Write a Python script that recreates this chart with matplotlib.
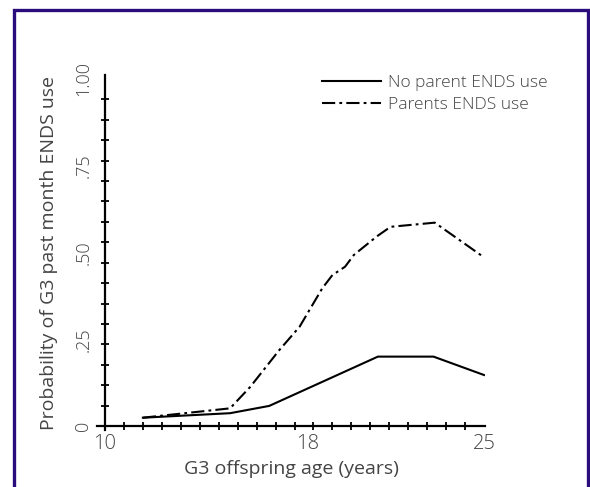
import numpy as np
import matplotlib.pyplot as plt
from matplotlib.patches import Rectangle
from matplotlib.ticker import FixedLocator

plt.rcParams['font.family'] = ['Open Sans', 'DejaVu Sans']
plt.rcParams['font.weight'] = 300
plt.rcParams['lines.scale_dashes'] = False

# data
age_none = [11.5, 14.95, 16.5, 20.8, 23.0, 25.0]
prob_none = [0.024, 0.037, 0.058, 0.200, 0.200, 0.147]

age_par = [11.5, 14.95, 15.75, 16.9, 17.7, 18.6, 19.0, 19.5, 19.85, 20.75, 21.3, 23.05, 25.0]
prob_par = [0.024, 0.051, 0.113, 0.219, 0.286, 0.397, 0.435, 0.459, 0.493, 0.546, 0.574, 0.586, 0.486]

ytick_vals = [0, 0.25, 0.5, 0.75, 1.0]
ytick_labels = ['0', '.25', '.50', '.75', '1.00']
xtick_vals = [10, 18, 25]

grey = '#444444'

fig = plt.figure(figsize=(5.9, 4.87), dpi=100)
# axes placed so that x=10 -> 105px, x=25 -> 484px, y=0 -> 426px, y=1 -> 79px
ax = fig.add_axes([97.4 / 590, 1 - 430.2 / 487, 387.9 / 590, 355.4 / 487])

ax.plot(age_none, prob_none, color='black', lw=1.5, label='No parent ENDS use')
ax.plot(age_par, prob_par, color='black', lw=1.5, dashes=(9.5, 3, 2, 3),
        label='Parents ENDS use')

ax.set_xlim(9.7, 25.05)
ax.set_ylim(-0.012, 1.012)
ax.spines['left'].set_position(('data', 10))
ax.spines['bottom'].set_position(('data', 0))
ax.spines['right'].set_visible(False)
ax.spines['top'].set_visible(False)
for s in ('left', 'bottom'):
    ax.spines[s].set_linewidth(1.6)

ax.set_yticks(ytick_vals)
ax.set_yticklabels(ytick_labels, rotation=90, va='center')
ax.set_xticks(xtick_vals)
ax.yaxis.set_minor_locator(FixedLocator([k / 17 for k in range(1, 18)]))
ax.xaxis.set_minor_locator(FixedLocator([10 + 0.75 * k for k in range(1, 21)]))
ax.tick_params(which='major', length=0, labelcolor=grey)
ax.tick_params(axis='x', which='major', labelsize=14.5, pad=6)
ax.tick_params(axis='y', which='major', labelsize=13, pad=9)
ax.tick_params(which='minor', direction='inout', length=6, width=1.3)

ax.set_xlabel('G3 offspring age (years)', fontsize=14, color=grey, labelpad=4)
ax.set_ylabel('Probability of G3 past month ENDS use', fontsize=14, color=grey,
              labelpad=12)

leg = ax.legend(loc='upper left', bbox_to_anchor=(313 / 590, 1 - 66 / 487),
                bbox_transform=fig.transFigure, frameon=False, fontsize=12.5,
                handlelength=3.4, handletextpad=0.4, labelspacing=0.35,
                borderpad=0)
for t in leg.get_texts():
    t.set_color(grey)

fig.patches.append(Rectangle((13.5 / 590, -0.1), 574 / 590, 1.1 - 10 / 487,
                             transform=fig.transFigure, fill=False,
                             edgecolor='#2b0c7c', lw=2.4, clip_on=False))

fig.savefig('out.png', dpi=100)
